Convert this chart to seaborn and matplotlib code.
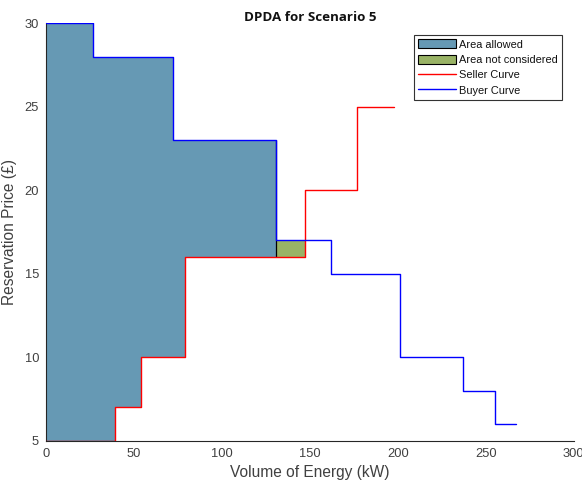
import numpy as np
import pandas as pd
import matplotlib
matplotlib.use("Agg")
import matplotlib.pyplot as plt
import seaborn as sns
from matplotlib.patches import Patch
from matplotlib.lines import Line2D

# Data
buyer_x = [0, 27, 72, 131, 162, 201, 237, 255, 267]
buyer_y = [30, 28, 23, 17, 15, 10, 8, 6, 6]
seller_x = [0, 39, 54, 79, 147, 177, 198]
seller_y = [5, 7, 10, 16, 20, 25, 25]
allowed_end = 131
not_considered_x = [131, 147]
not_considered_y = [16, 17]

labels = ["Area allowed", "Area not considered", "Seller Curve", "Buyer Curve"]
x_ticks = [0, 50, 100, 150, 200, 250, 300]
y_ticks = [5, 10, 15, 20, 25, 30]

sns.set_style("white")
plt.rcParams['font.family'] = ['Liberation Sans', 'DejaVu Sans']

fig = plt.figure(figsize=(5.82, 4.82), dpi=100)
ax = fig.add_axes([0.079, 0.0857, 0.907, 0.866])

def step_val(xs, ys, x):
    idx = np.searchsorted(xs, x, side='right') - 1
    return np.asarray(ys)[idx]

bx = sorted(set([v for v in buyer_x + seller_x if v <= allowed_end] + [allowed_end]))
upper = [step_val(buyer_x, buyer_y, v) for v in bx]
lower = [step_val(seller_x, seller_y, v) for v in bx]
upper[-1] = upper[-2]
lower[-1] = lower[-2]
blue_fill = "#6699B4"
green_fill = "#99B366"
ax.fill_between(bx, lower, upper, step='post', facecolor=blue_fill,
                edgecolor='none', linewidth=0, zorder=1)
ax.fill_between(not_considered_x, [not_considered_y[0]] * 2, [not_considered_y[1]] * 2,
                facecolor=green_fill, edgecolor='none', linewidth=0, zorder=1)
ax.vlines(allowed_end, not_considered_y[0], upper[-1], colors='black',
          linewidth=0.9, zorder=2)

df_s = pd.DataFrame({"x": seller_x, "y": seller_y})
df_b = pd.DataFrame({"x": buyer_x, "y": buyer_y})
sns.lineplot(data=df_s, x="x", y="y", ax=ax, color="#FF0000", linewidth=1.0,
             drawstyle='steps-post', estimator=None, sort=False, zorder=3)
sns.lineplot(data=df_b, x="x", y="y", ax=ax, color="#0000FF", linewidth=1.0,
             drawstyle='steps-post', estimator=None, sort=False, zorder=3)

ax.set_xlim(0, 300)
ax.set_ylim(5, 30)
ax.set_xticks(x_ticks)
ax.set_yticks(y_ticks)
tc = "#404040"
ax.tick_params(direction='in', length=4, width=0.8, colors='#262626', labelsize=9.3,
               pad=5, labelcolor=tc)
for s in ['top', 'right']:
    ax.spines[s].set_visible(False)
for s in ['left', 'bottom']:
    ax.spines[s].set_color('#262626')
    ax.spines[s].set_linewidth(0.8)

ax.set_xlabel("Volume of Energy (kW)", fontsize=11.2, color=tc, labelpad=4)
ax.set_ylabel("Reservation Price (£)", fontsize=11.2, color=tc)
ax.yaxis.set_label_coords(-0.055, 0.5)
ax.set_title("DPDA for Scenario 5", fontsize=9.6, fontweight='bold', color='#111111',
             family=['Open Sans', 'DejaVu Sans'], pad=2)

handles = [Patch(facecolor=blue_fill, edgecolor='black', linewidth=0.8),
           Patch(facecolor=green_fill, edgecolor='black', linewidth=0.8),
           Line2D([0], [0], color="#FF0000", lw=1.0),
           Line2D([0], [0], color="#0000FF", lw=1.0)]
leg = ax.legend(handles, labels, loc='upper right', bbox_to_anchor=(0.9656, 0.9274),
                bbox_transform=fig.transFigure, fontsize=7.9, frameon=True,
                fancybox=False, edgecolor='#333333', framealpha=1,
                handlelength=3.4, handleheight=0.9, handletextpad=0.3,
                labelspacing=0.45, borderpad=0.4, borderaxespad=0)
leg.get_frame().set_linewidth(0.8)
for t in leg.get_texts():
    t.set_color('#111111')

fig.savefig("out.png", dpi=100)
